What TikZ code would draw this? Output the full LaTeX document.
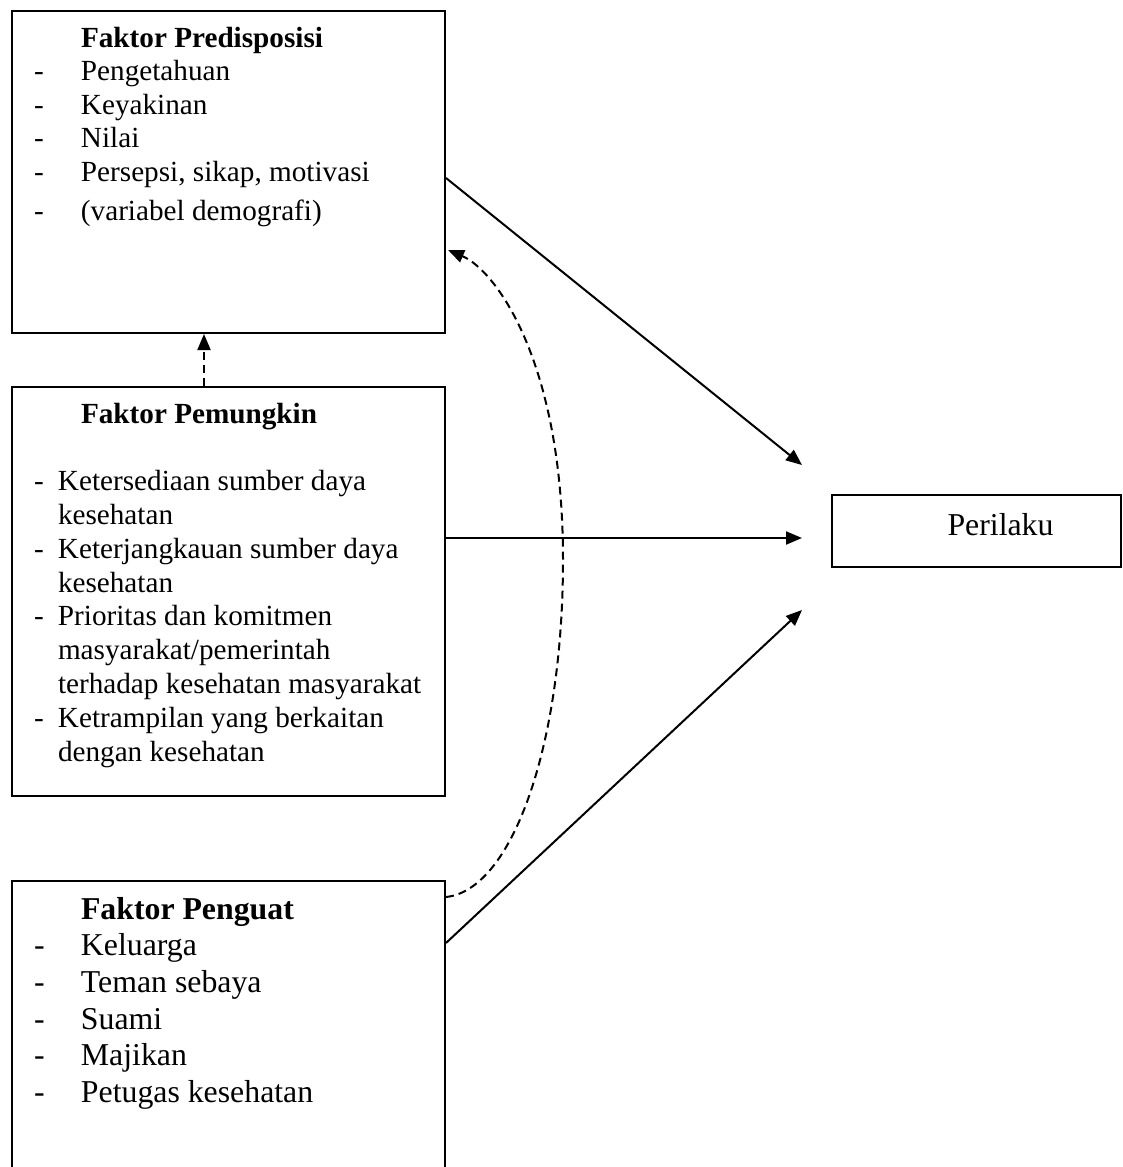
\documentclass[tikz,border=0pt]{standalone}
\usepackage{fontspec}
\setmainfont{Liberation Serif}
\usetikzlibrary{arrows.meta, calc}

\begin{document}
\begin{tikzpicture}[
        x=0.5pt, y=-0.5pt,
        line width=1pt,
        box/.style={draw,anchor=north west,inner sep=0pt,minimum width=216.5pt},
        txt/.style={anchor=base west,inner sep=0pt},
        arr/.style={-{Triangle[length=8pt,width=6.5pt]}},
        dsh/.style={arr,dash pattern=on 4pt off 2.5pt}
    ]
    \useasboundingbox (0,0) rectangle (1123,1167);
    \clip (0,0) rectangle (1123,1167);
    \node[box,minimum height=161pt] (predisp) at (11,10) {};
    \node[box,minimum height=204.5pt] (pemungkin) at (11,386) {};
    \node[box,minimum height=160pt] (penguat) at (11,880) {};
    \node[draw,inner sep=0pt,minimum width=144.5pt,minimum height=36pt,
          text height=11.5pt,text depth=7.5pt,
          font=\fontsize{15.9pt}{18pt}\selectfont] (perilaku) at (976.5,531) {\hspace*{24pt}Perilaku};
    \node[txt] (predispT) at (33,47) {\parbox[t]{205pt}{\fontsize{14.6pt}{16.8pt}\selectfont
        \hspace*{23.5pt}\textbf{Faktor Predisposisi}\\
        \makebox[23.5pt][l]{-}Pengetahuan\\
        \makebox[23.5pt][l]{-}Keyakinan\\
        \makebox[23.5pt][l]{-}Nilai\\
        \makebox[23.5pt][l]{-}Persepsi, sikap, motivasi\\[2.75pt]
        \makebox[23.5pt][l]{-}(variabel demografi)}};
    \node[txt] (pemungkinT) at (33,423) {\parbox[t]{205pt}{\fontsize{14.6pt}{16.9pt}\selectfont
        \hspace*{23.5pt}\textbf{Faktor Pemungkin}\\[16.9pt]
        \makebox[12pt][l]{-}Ketersediaan sumber daya\\
        \hspace*{12pt}kesehatan\\
        \makebox[12pt][l]{-}Keterjangkauan sumber daya\\
        \hspace*{12pt}kesehatan\\
        \makebox[12pt][l]{-}Prioritas dan komitmen\\
        \hspace*{12pt}masyarakat/pemerintah\\
        \hspace*{12pt}terhadap kesehatan masyarakat\\
        \makebox[12pt][l]{-}Ketrampilan yang berkaitan\\
        \hspace*{12pt}dengan kesehatan}};
    \node[txt] (penguatT) at (33,919) {\parbox[t]{205pt}{\fontsize{15.9pt}{18.35pt}\selectfont
        \hspace*{23.5pt}\textbf{Faktor Penguat}\\
        \makebox[23.5pt][l]{-}Keluarga\\
        \makebox[23.5pt][l]{-}Teman sebaya\\
        \makebox[23.5pt][l]{-}Suami\\
        \makebox[23.5pt][l]{-}Majikan\\
        \makebox[23.5pt][l]{-}Petugas kesehatan}};
    \draw[arr] ($(predisp.north east)+(0,168)$) -- ($(perilaku.west)+(-29,-66)$);
    \draw[arr] ($(pemungkin.north east)+(0,152)$) -- ($(perilaku.west)+(-29,7)$);
    \draw[arr] ($(penguat.north east)+(0,63)$) -- ($(perilaku.west)+(-29,79)$);
    \draw[dsh] ($(pemungkin.north)+(-24.5,0)$) -- ($(predisp.south)+(-24.5,0)$);
    \draw[dsh] ($(penguat.north east)+(0,17)$) .. controls +(66,-7) and (563,746) .. (563,560)
        .. controls (563,360) and (495,270) .. ($(predisp.north east)+(2,240)$);
\end{tikzpicture}
\end{document}
